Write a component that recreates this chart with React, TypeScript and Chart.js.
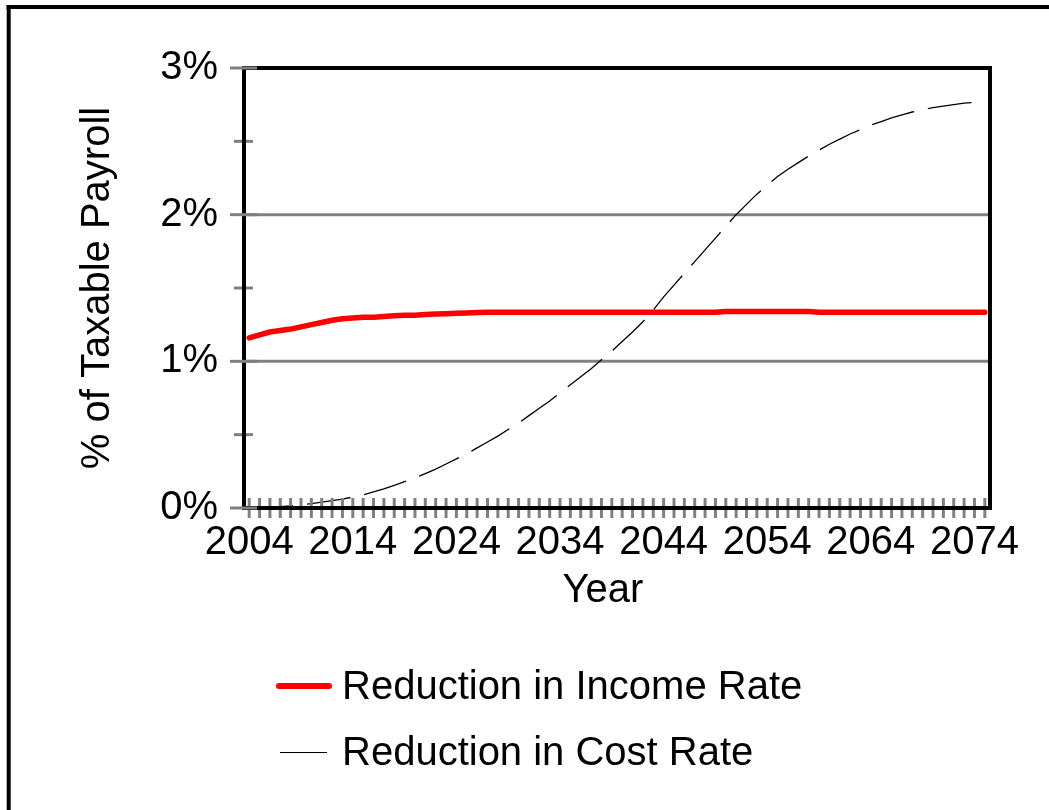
import React, { useEffect, useRef } from 'react';
import { Chart, registerables } from 'chart.js';

Chart.register(...registerables);

const years = [
  '2004', '2005', '2006', '2007', '2008', '2009', '2010', '2011', '2012', '2013',
  '2014', '2015', '2016', '2017', '2018', '2019', '2020', '2021', '2022', '2023',
  '2024', '2025', '2026', '2027', '2028', '2029', '2030', '2031', '2032', '2033',
  '2034', '2035', '2036', '2037', '2038', '2039', '2040', '2041', '2042', '2043',
  '2044', '2045', '2046', '2047', '2048', '2049', '2050', '2051', '2052', '2053',
  '2054', '2055', '2056', '2057', '2058', '2059', '2060', '2061', '2062', '2063',
  '2064', '2065', '2066', '2067', '2068', '2069', '2070', '2071', '2072', '2073',
  '2074', '2075',
];

const incomeRate = [
  1.16, 1.18, 1.2, 1.21, 1.22, 1.235, 1.25, 1.265, 1.28, 1.29,
  1.295, 1.3, 1.3, 1.305, 1.31, 1.315, 1.315, 1.32, 1.322, 1.325,
  1.328, 1.33, 1.333, 1.335, 1.335, 1.335, 1.335, 1.335, 1.335, 1.335,
  1.335, 1.335, 1.335, 1.335, 1.335, 1.335, 1.335, 1.335, 1.335, 1.335,
  1.335, 1.335, 1.335, 1.335, 1.335, 1.335, 1.34, 1.34, 1.34, 1.34,
  1.34, 1.34, 1.34, 1.34, 1.34, 1.335, 1.335, 1.335, 1.335, 1.335,
  1.335, 1.335, 1.335, 1.335, 1.335, 1.335, 1.335, 1.335, 1.335, 1.335,
  1.335, 1.335,
];

const costRate = [
  0.0, 0.0, 0.005, 0.01, 0.015, 0.02, 0.03, 0.04, 0.05, 0.06,
  0.075, 0.09, 0.11, 0.13, 0.155, 0.18, 0.205, 0.235, 0.265, 0.3,
  0.335, 0.37, 0.41, 0.45, 0.49, 0.535, 0.58, 0.63, 0.68, 0.73,
  0.785, 0.84, 0.895, 0.95, 1.01, 1.07, 1.135, 1.2, 1.27, 1.35,
  1.44, 1.52, 1.6, 1.68, 1.76, 1.84, 1.92, 2.0, 2.07, 2.14,
  2.2, 2.26, 2.31, 2.355, 2.4, 2.44, 2.48, 2.515, 2.55, 2.58,
  2.61, 2.635, 2.66, 2.68, 2.7, 2.715, 2.73, 2.74, 2.75, 2.76,
  2.765, 2.77,
];

const yMajorTicks = [0, 1, 2, 3];
const yMinorTicks = [0.5, 1.5, 2.5];
const yGridValues = [1, 2];
const labelEvery = 10;
const seriesNames = ['Reduction in Income Rate', 'Reduction in Cost Rate'];
const xTitle = 'Year';
const yTitle = '% of Taxable Payroll';

const FONT = 'Arial, "Liberation Sans", sans-serif';
const GRAY = '#808080';

export default function App() {
  const ref = useRef<HTMLCanvasElement>(null);

  useEffect(() => {
    document.body.style.margin = '0';
    document.body.style.overflow = 'hidden';
    const canvas = ref.current;
    if (!canvas) return;

    const seg = (ctx: CanvasRenderingContext2D, x1: number, y1: number, x2: number, y2: number) => {
      ctx.beginPath();
      ctx.moveTo(x1, y1);
      ctx.lineTo(x2, y2);
      ctx.stroke();
    };

    const framePlugin = {
      id: 'framePlugin',
      beforeDatasetsDraw(chart: any) {
        const { ctx, chartArea: a, scales } = chart;
        const y = scales.y;
        ctx.save();
        ctx.strokeStyle = GRAY;
        ctx.lineWidth = 3;
        for (const v of yGridValues) {
          const py = y.getPixelForValue(v);
          seg(ctx, a.left, py, a.right, py);
        }
        ctx.restore();
      },
      afterDatasetsDraw(chart: any) {
        const { ctx, chartArea: a, scales } = chart;
        const x = scales.x;
        const y = scales.y;
        ctx.save();
        ctx.strokeStyle = GRAY;
        ctx.lineWidth = 3;
        for (let i = 0; i < years.length; i++) {
          const px = x.getPixelForValue(i);
          seg(ctx, px, a.bottom - 10, px, a.bottom + 10);
        }
        for (const v of yMinorTicks) {
          const py = y.getPixelForValue(v);
          seg(ctx, a.left - 10, py, a.left + 9, py);
        }
        ctx.restore();

        ctx.save();
        ctx.strokeStyle = '#000';
        ctx.lineWidth = 4;
        ctx.lineCap = 'square';
        ctx.strokeRect(a.left, a.top, a.right - a.left, a.bottom - a.top);
        ctx.restore();

        ctx.save();
        ctx.strokeStyle = GRAY;
        ctx.lineWidth = 3;
        for (const v of yMajorTicks) {
          const py = y.getPixelForValue(v);
          seg(ctx, a.left - 14, py, a.left + 13, py);
        }
        ctx.restore();
      },
      afterDraw(chart: any) {
        const { ctx } = chart;
        ctx.save();
        ctx.fillStyle = '#000';
        ctx.font = `40px ${FONT}`;
        ctx.textAlign = 'center';
        ctx.textBaseline = 'middle';
        ctx.fillText(xTitle, 603, 591);
        // legend
        ctx.strokeStyle = '#ff0000';
        ctx.lineWidth = 6;
        ctx.lineCap = 'round';
        seg(ctx, 279, 686, 329, 686);
        ctx.strokeStyle = '#000';
        ctx.lineWidth = 1;
        ctx.lineCap = 'butt';
        seg(ctx, 280, 752.5, 327, 752.5);
        ctx.textBaseline = 'alphabetic';
        ctx.textAlign = 'left';
        ctx.fillText(seriesNames[0], 342, 699);
        ctx.fillText(seriesNames[1], 342, 765);
        // outer frame (top & left)
        ctx.strokeStyle = '#000';
        ctx.lineWidth = 4;
        seg(ctx, 6.5, 7, 1060, 7);
        seg(ctx, 8.7, 5, 8.7, 820);
        ctx.restore();
      },
    };

    const chart = new Chart(canvas, {
      type: 'line',
      data: {
        labels: years,
        datasets: [
          {
            label: seriesNames[0],
            data: incomeRate,
            borderColor: '#ff0000',
            borderWidth: 5.5,
            pointRadius: 0,
            tension: 0,
            borderCapStyle: 'round',
            borderJoinStyle: 'round',
            fill: false,
          },
          {
            label: seriesNames[1],
            data: costRate,
            borderColor: '#000000',
            borderWidth: 1.3,
            borderDash: [44, 14],
            pointRadius: 0,
            tension: 0,
            fill: false,
          },
        ],
      },
      options: {
        responsive: false,
        animation: false,
        events: [],
        layout: { padding: { left: 0, right: 59, top: 68, bottom: 192 } },
        plugins: {
          legend: { display: false },
          tooltip: { enabled: false },
        },
        scales: {
          x: {
            type: 'category',
            offset: true,
            grid: { display: false },
            border: { display: false },
            ticks: {
              autoSkip: false,
              maxRotation: 0,
              minRotation: 0,
              padding: 3,
              color: '#000',
              font: { family: FONT, size: 40 },
              callback: (_v: any, i: number) => (i % labelEvery === 0 ? years[i] : ''),
            },
            title: { display: false },
            afterFit: (s: any) => {
              s.height = 110;
            },
          },
          y: {
            min: 0,
            max: 3,
            grid: { display: false },
            border: { display: false },
            ticks: {
              stepSize: 1,
              padding: 18,
              color: '#000',
              font: { family: FONT, size: 40 },
              callback: (v: any) => `${v}%`,
            },
            title: {
              display: true,
              text: yTitle,
              color: '#000',
              font: { family: FONT, size: 40 },
              padding: { top: 74, bottom: 0 },
            },
            afterFit: (s: any) => {
              s.width = 244;
            },
          },
        },
      },
      plugins: [framePlugin],
    } as any);

    return () => chart.destroy();
  }, []);

  return <canvas ref={ref} width={1049} height={810} style={{ display: 'block' }} />;
}
